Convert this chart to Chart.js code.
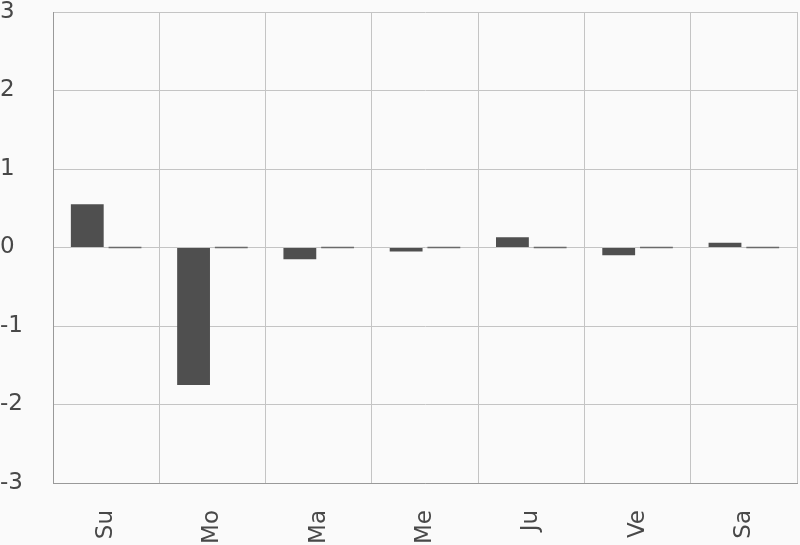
<!DOCTYPE html>
<html>
<head>
<meta charset="utf-8">
<script src="https://cdn.jsdelivr.net/npm/chart.js@4/dist/chart.umd.min.js"></script>
<style>
  html, body { margin: 0; padding: 0; background: #fafafa; }
  #wrap { width: 800px; height: 545px; position: relative; }
</style>
</head>
<body>
<div id="wrap"><canvas id="chart"></canvas></div>
<script>
// jours de la semaine
const days = ['Su', 'Mo', 'Ma', 'Me', 'Ju', 'Ve', 'Sa'];
const seriesA = [0.55, -1.75, -0.15, -0.05, 0.13, -0.1, 0.06];
const seriesB = [0, 0, 0, 0, 0, 0, 0];
const yTicks = [-3, -2, -1, 0, 1, 2, 3];

const ctx = document.getElementById('chart').getContext('2d');

new Chart(ctx, {
    type: 'bar',
    data: {
        labels: days,
        datasets: [
            {
                data: seriesA,
                backgroundColor: '#4f4f4f',
                categoryPercentage: 0.71,
                barPercentage: 0.87
            },
            {
                data: seriesB,
                backgroundColor: '#6a6a6a',
                minBarLength: 1.5,
                categoryPercentage: 0.71,
                barPercentage: 0.87
            }
        ]
    },
    options: {
        responsive: true,
        maintainAspectRatio: false,
        animation: false,
        layout: { padding: { top: 12, right: 3, left: 0, bottom: 0 } },
        plugins: { legend: { display: false }, tooltip: { enabled: false } },
        scales: {
            x: {
                grid: { offset: true, color: '#c4c4c4', drawTicks: false },
                border: { color: '#999' },
                ticks: {
                    color: '#484848',
                    font: { family: 'DejaVu Sans', size: 23 },
                    minRotation: 90,
                    maxRotation: 90,
                    padding: 27
                },
                afterFit: s => { s.height = 62; }
            },
            y: {
                min: yTicks[0],
                max: yTicks[yTicks.length - 1],
                afterBuildTicks: s => { s.ticks = yTicks.map(v => ({ value: v })); },
                grid: { color: '#c4c4c4', drawTicks: false },
                border: { color: '#999' },
                ticks: {
                    color: '#484848',
                    font: { family: 'DejaVu Sans', size: 23 },
                    crossAlign: 'far',
                    padding: 10
                },
                afterFit: s => { s.width = 53; s.paddingTop = 0; s.paddingBottom = 0; }
            }
        }
    }
});
</script>
</body>
</html>
